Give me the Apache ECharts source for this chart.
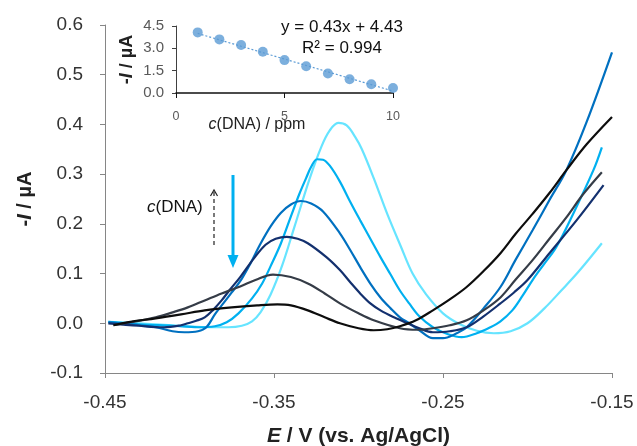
<!DOCTYPE html>
<html>
<head>
<meta charset="utf-8">
<script src="https://cdn.jsdelivr.net/npm/echarts@6/dist/echarts.min.js"></script>
<style>html,body{margin:0;padding:0;background:#fff}#c{width:637px;height:446px}</style>
</head>
<body>
<div id="c"></div>
<script>
// ---- main chart data: [E (V), -I (µA)] ----
const curveLightCyan = [[-0.448,0.003],[-0.43,0.0],[-0.41,-0.004],[-0.39,-0.008],[-0.377,-0.008],[-0.369,-0.005],[-0.363,0.004],[-0.358,0.022],[-0.352,0.058],[-0.345,0.118],[-0.338,0.193],[-0.329,0.29],[-0.322,0.355],[-0.317,0.388],[-0.312,0.403],[-0.307,0.398],[-0.302,0.375],[-0.298,0.35],[-0.291,0.292],[-0.283,0.22],[-0.275,0.155],[-0.268,0.1],[-0.26,0.058],[-0.25,0.02],[-0.24,-0.002],[-0.23,-0.015],[-0.22,-0.02],[-0.21,-0.016],[-0.2,0.0],[-0.19,0.03],[-0.18,0.066],[-0.17,0.103],[-0.156,0.161]];
const curveSkyBlue = [[-0.448,0.003],[-0.43,-0.002],[-0.41,-0.005],[-0.395,-0.008],[-0.385,-0.006],[-0.378,0.002],[-0.371,0.02],[-0.363,0.05],[-0.357,0.08],[-0.352,0.115],[-0.346,0.16],[-0.34,0.215],[-0.335,0.26],[-0.331,0.292],[-0.328,0.315],[-0.3245,0.33],[-0.321,0.329],[-0.317,0.317],[-0.311,0.285],[-0.305,0.245],[-0.299,0.207],[-0.293,0.17],[-0.287,0.133],[-0.281,0.098],[-0.2755,0.066],[-0.27,0.04],[-0.264,0.014],[-0.256,-0.008],[-0.247,-0.022],[-0.239,-0.028],[-0.23,-0.02],[-0.222,-0.008],[-0.216,0.004],[-0.209,0.026],[-0.203,0.055],[-0.197,0.087],[-0.19,0.12],[-0.183,0.153],[-0.173,0.22],[-0.161,0.308],[-0.156,0.354]];
const curveMidBlue = [[-0.448,0.002],[-0.435,-0.002],[-0.42,-0.008],[-0.41,-0.016],[-0.403,-0.018],[-0.395,-0.016],[-0.39,-0.008],[-0.385,0.018],[-0.38,0.04],[-0.375,0.062],[-0.369,0.09],[-0.364,0.12],[-0.358,0.16],[-0.352,0.195],[-0.346,0.222],[-0.34,0.239],[-0.334,0.246],[-0.328,0.241],[-0.321,0.225],[-0.311,0.181],[-0.305,0.148],[-0.299,0.113],[-0.293,0.08],[-0.287,0.052],[-0.281,0.03],[-0.2755,0.012],[-0.27,0.0],[-0.264,-0.014],[-0.256,-0.03],[-0.25,-0.03],[-0.243,-0.022],[-0.236,-0.008],[-0.226,0.03],[-0.216,0.073],[-0.207,0.128],[-0.197,0.187],[-0.187,0.248],[-0.177,0.308],[-0.165,0.405],[-0.15,0.545]];
const curveNavy = [[-0.448,0.0],[-0.43,-0.005],[-0.415,-0.008],[-0.405,-0.004],[-0.401,0.0],[-0.396,0.005],[-0.391,0.012],[-0.386,0.027],[-0.381,0.046],[-0.376,0.068],[-0.37,0.093],[-0.362,0.13],[-0.355,0.158],[-0.349,0.17],[-0.3425,0.174],[-0.336,0.17],[-0.33,0.161],[-0.319,0.133],[-0.311,0.107],[-0.305,0.083],[-0.299,0.06],[-0.293,0.04],[-0.287,0.026],[-0.279,0.012],[-0.271,0.0],[-0.264,-0.01],[-0.256,-0.018],[-0.246,-0.016],[-0.236,-0.008],[-0.226,0.014],[-0.216,0.04],[-0.208,0.062],[-0.2,0.087],[-0.187,0.141],[-0.171,0.207],[-0.155,0.278]];
const curveSlate = [[-0.445,-0.004],[-0.435,0.002],[-0.42,0.012],[-0.41,0.022],[-0.401,0.032],[-0.391,0.046],[-0.381,0.06],[-0.37,0.074],[-0.361,0.087],[-0.3506,0.098],[-0.34,0.093],[-0.33,0.08],[-0.32,0.06],[-0.311,0.04],[-0.3,0.02],[-0.291,0.006],[-0.2755,-0.01],[-0.265,-0.013],[-0.256,-0.01],[-0.246,-0.004],[-0.236,0.006],[-0.226,0.026],[-0.216,0.052],[-0.207,0.088],[-0.197,0.127],[-0.187,0.17],[-0.177,0.213],[-0.167,0.26],[-0.156,0.304]];
const curveBlack = [[-0.445,-0.004],[-0.435,0.003],[-0.42,0.01],[-0.405,0.018],[-0.391,0.026],[-0.375,0.032],[-0.36,0.036],[-0.348,0.038],[-0.34,0.036],[-0.33,0.026],[-0.32,0.012],[-0.311,0.0],[-0.3,-0.01],[-0.291,-0.014],[-0.283,-0.012],[-0.2755,-0.006],[-0.266,0.006],[-0.256,0.026],[-0.246,0.048],[-0.236,0.073],[-0.226,0.105],[-0.216,0.141],[-0.207,0.18],[-0.197,0.22],[-0.187,0.262],[-0.177,0.308],[-0.165,0.36],[-0.15,0.415]];

// ---- inset data ----
const insetConc = [1,2,3,4,5,6,7,8,9,10];
const insetCurrent = [4.07,3.60,3.22,2.77,2.21,1.80,1.31,0.92,0.59,0.34];
const trendConc = [1,10];
const trendCurrent = [4.0,0.13];

const FONT = '"Liberation Sans", Arial, sans-serif';
const chart = echarts.init(document.getElementById('c'), null, {renderer:'canvas'});

function lineSeries(data, color){
  return {type:'line', xAxisIndex:0, yAxisIndex:0, data:data, smooth:0.35, showSymbol:false,
    lineStyle:{color:color, width:2.2}, itemStyle:{color:color}, z:3};
}

const option = {
  animation:false,
  backgroundColor:'#fff',
  grid:[
    {left:105, right:25, top:25, bottom:73, containLabel:false, outerBoundsMode:'none'},
    {left:176, right:244, top:26, bottom:353, containLabel:false, outerBoundsMode:'none'}
  ],
  xAxis:[
    {type:'value', gridIndex:0, min:-0.45, max:-0.15, interval:0.1,
     axisLine:{onZero:false, lineStyle:{color:'#868686', width:1}},
     axisTick:{show:true, length:5, lineStyle:{color:'#868686'}},
     splitLine:{show:false},
     axisLabel:{fontFamily:FONT, fontSize:19, color:'#333', margin:20, formatter:v=>v.toFixed(2)},
     name:'{i|E} / V (vs. Ag/AgCl)', nameLocation:'middle', nameGap:53,
     nameTextStyle:{fontFamily:FONT, fontSize:21, fontWeight:'bold', color:'#222',
       rich:{i:{fontFamily:FONT, fontSize:21, fontWeight:'bold', fontStyle:'italic', color:'#222'}}}
    },
    {type:'value', gridIndex:1, min:0, max:10, interval:5,
     axisLine:{onZero:false, lineStyle:{color:'#111', width:1.5}},
     axisTick:{show:true, length:5, lineStyle:{color:'#111'}},
     splitLine:{show:false},
     axisLabel:{fontFamily:FONT, fontSize:12.5, color:'#595959', margin:17}
    }
  ],
  yAxis:[
    {type:'value', gridIndex:0, min:-0.1, max:0.6, interval:0.1,
     axisLine:{onZero:false, lineStyle:{color:'#868686', width:1}},
     axisTick:{show:true, length:5, lineStyle:{color:'#868686'}},
     splitLine:{show:false},
     axisLabel:{fontFamily:FONT, fontSize:19, color:'#333', margin:22,
       formatter:v=>(Math.abs(v)<1e-9?0:v).toFixed(1)},
     name:'-{i|I} / µA', nameLocation:'middle', nameGap:70, nameRotate:90,
     nameTextStyle:{fontFamily:FONT, fontSize:20, fontWeight:'bold', color:'#222',
       rich:{i:{fontFamily:FONT, fontSize:20, fontWeight:'bold', fontStyle:'italic', color:'#222'}}}
    },
    {type:'value', gridIndex:1, min:0, max:4.5, interval:1.5,
     axisLine:{onZero:false, lineStyle:{color:'#404040', width:1}},
     axisTick:{show:true, length:4, lineStyle:{color:'#404040'}},
     splitLine:{show:false},
     axisLabel:{fontFamily:FONT, fontSize:15, color:'#595959', margin:12, formatter:v=>v.toFixed(1)},
     name:'-{i|I} / µA', nameLocation:'middle', nameGap:40, nameRotate:90,
     nameTextStyle:{fontFamily:FONT, fontSize:18, fontWeight:'bold', color:'#222',
       rich:{i:{fontFamily:FONT, fontSize:18, fontWeight:'bold', fontStyle:'italic', color:'#222'}}}
    }
  ],
  series:[
    lineSeries(curveLightCyan, '#66E4FF'),
    lineSeries(curveSkyBlue, '#00B0F0'),
    lineSeries(curveMidBlue, '#0070C0'),
    lineSeries(curveNavy, '#13306E'),
    lineSeries(curveSlate, '#353C47'),
    lineSeries(curveBlack, '#0D0D0D'),
    {type:'line', xAxisIndex:1, yAxisIndex:1, data:trendConc.map((x,i)=>[x,trendCurrent[i]]),
     showSymbol:false, lineStyle:{color:'#5B9BD5', width:1.2, type:[2,2]}, z:4},
    {type:'scatter', xAxisIndex:1, yAxisIndex:1, data:insetConc.map((x,i)=>[x,insetCurrent[i]]),
     symbolSize:10, itemStyle:{color:'#5B9BD5'}, z:5}
  ],
  graphic:[
    {type:'text', z:10, style:{text:'y = 0.43x + 4.43', fontFamily:FONT, fontSize:17, fill:'#111', x:342, y:27, align:'center', verticalAlign:'middle'}},
    {type:'text', z:10, style:{text:'R² = 0.994', fontFamily:FONT, fontSize:17, fill:'#111', x:342, y:48, align:'center', verticalAlign:'middle'}},
    {type:'text', z:10, style:{text:'{i|c}(DNA) / ppm', fontFamily:FONT, fontSize:16, fill:'#222', x:257, y:125, align:'center', verticalAlign:'middle',
      rich:{i:{fontFamily:FONT, fontSize:16, fontStyle:'italic', fill:'#222'}}}},
    {type:'text', z:10, style:{text:'{i|c}(DNA)', fontFamily:FONT, fontSize:17, fill:'#111', x:147, y:207, align:'left', verticalAlign:'middle',
      rich:{i:{fontFamily:FONT, fontSize:17, fontStyle:'italic', fill:'#111'}}}},
    {type:'line', z:10, shape:{x1:214, y1:245, x2:214, y2:191}, style:{stroke:'#222', lineWidth:1.2, lineDash:[4,3]}},
    {type:'polyline', z:10, shape:{points:[[210.5,196],[214,190],[217.5,196]]}, style:{stroke:'#222', lineWidth:1.2, fill:null}},
    {type:'line', z:10, shape:{x1:233, y1:175, x2:233, y2:258}, style:{stroke:'#00B0F0', lineWidth:3}},
    {type:'polygon', z:10, shape:{points:[[227.5,255],[238.5,255],[233,268]]}, style:{fill:'#00B0F0'}}
  ]
};
chart.setOption(option);
</script>
</body>
</html>
